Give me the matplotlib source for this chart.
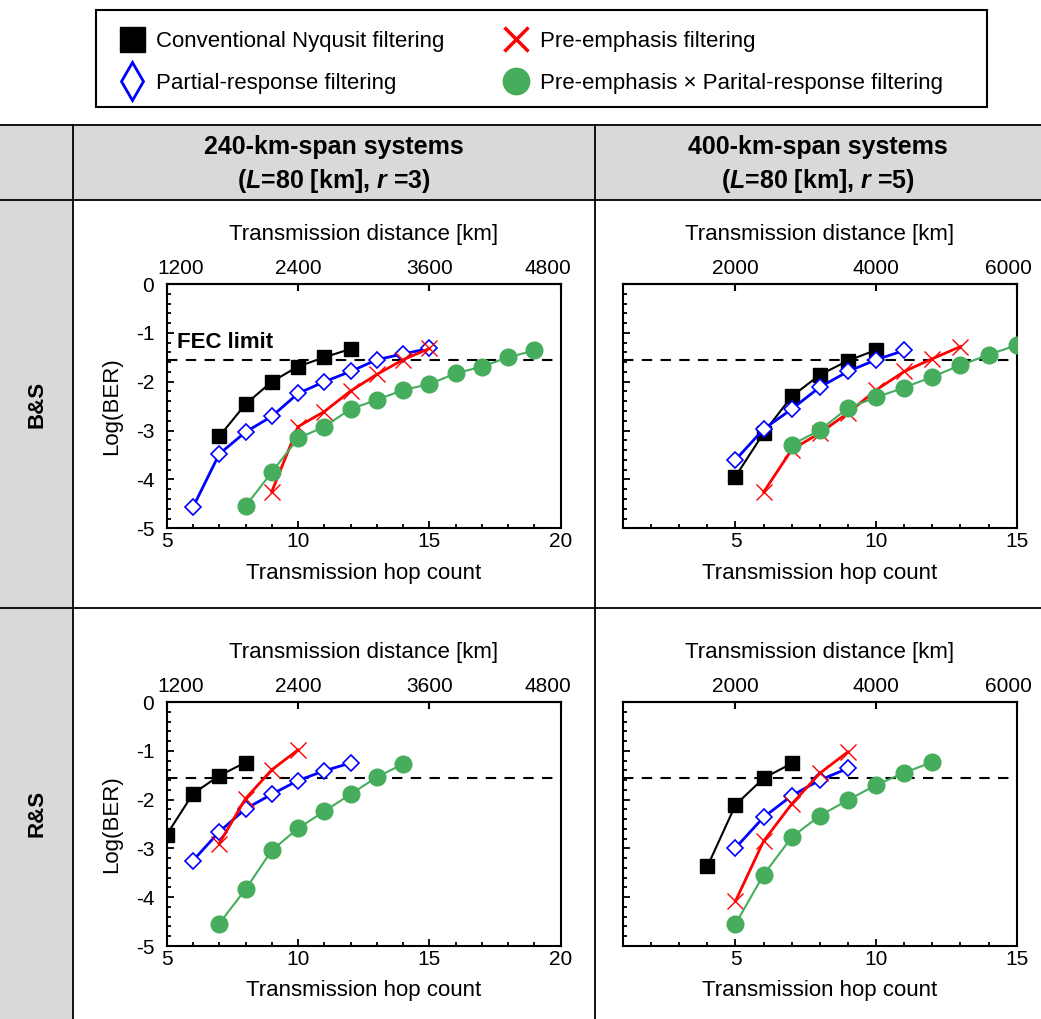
import matplotlib
matplotlib.use('Agg')
import matplotlib.pyplot as plt
from matplotlib.lines import Line2D
from matplotlib.patches import Rectangle
from matplotlib.ticker import MultipleLocator
from matplotlib.transforms import ScaledTranslation

plt.rcParams['font.family'] = ['Liberation Sans', 'DejaVu Sans']
plt.rcParams['axes.unicode_minus'] = False
plt.rcParams['mathtext.fontset'] = 'custom'
plt.rcParams['mathtext.it'] = 'Liberation Sans:italic:bold'
plt.rcParams['mathtext.rm'] = 'Liberation Sans:bold'

W, H = 1041, 1019
FEC_LIMIT = -1.55

# ---- data: hop counts and Log(BER) ----
# B&S, 240-km span
bs240_nyq_hops = [7, 8, 9, 10, 11, 12]
bs240_nyq_ber = [-3.12, -2.46, -2.00, -1.69, -1.50, -1.33]
bs240_pr_hops = [6, 7, 8, 9, 10, 11, 12, 13, 14, 15]
bs240_pr_ber = [-4.57, -3.48, -3.03, -2.71, -2.24, -2.00, -1.79, -1.55, -1.43, -1.32]
bs240_pe_hops = [9, 10, 11, 12, 13, 14, 15]
bs240_pe_ber = [-4.25, -2.92, -2.61, -2.19, -1.85, -1.55, -1.32]
bs240_pepr_hops = [8, 9, 10, 11, 12, 13, 14, 15, 16, 17, 18, 19]
bs240_pepr_ber = [-4.55, -3.85, -3.16, -2.92, -2.56, -2.37, -2.17, -2.05, -1.83, -1.69, -1.50, -1.36]

# B&S, 400-km span
bs400_nyq_hops = [5, 6, 7, 8, 9, 10]
bs400_nyq_ber = [-3.94, -3.05, -2.30, -1.86, -1.57, -1.35]
bs400_pr_hops = [5, 6, 7, 8, 9, 10, 11]
bs400_pr_ber = [-3.60, -2.97, -2.56, -2.11, -1.79, -1.55, -1.36]
bs400_pe_hops = [6, 7, 8, 9, 10, 11, 12, 13]
bs400_pe_ber = [-4.26, -3.39, -3.05, -2.64, -2.17, -1.79, -1.53, -1.28]
bs400_pepr_hops = [7, 8, 9, 10, 11, 12, 13, 14, 15]
bs400_pepr_ber = [-3.29, -2.99, -2.54, -2.32, -2.12, -1.90, -1.66, -1.45, -1.25]

# R&S, 240-km span
rs240_nyq_hops = [5, 6, 7, 8]
rs240_nyq_ber = [-2.72, -1.88, -1.51, -1.24]
rs240_pr_hops = [6, 7, 8, 9, 10, 11, 12]
rs240_pr_ber = [-3.25, -2.66, -2.19, -1.89, -1.61, -1.41, -1.25]
rs240_pe_hops = [7, 8, 9, 10]
rs240_pe_ber = [-2.90, -1.98, -1.39, -0.98]
rs240_pepr_hops = [7, 8, 9, 10, 11, 12, 13, 14]
rs240_pepr_ber = [-4.54, -3.84, -3.04, -2.59, -2.24, -1.89, -1.54, -1.27]

# R&S, 400-km span
rs400_nyq_hops = [4, 5, 6, 7]
rs400_nyq_ber = [-3.37, -2.11, -1.56, -1.26]
rs400_pr_hops = [5, 6, 7, 8, 9]
rs400_pr_ber = [-2.99, -2.36, -1.92, -1.60, -1.36]
rs400_pe_hops = [5, 6, 7, 8, 9]
rs400_pe_ber = [-4.08, -2.85, -2.09, -1.46, -1.02]
rs400_pepr_hops = [5, 6, 7, 8, 9, 10, 11, 12]
rs400_pepr_ber = [-4.55, -3.54, -2.77, -2.33, -2.01, -1.70, -1.45, -1.23]

legend_labels = ['Conventional Nyqusit filtering', 'Partial-response filtering',
                 'Pre-emphasis filtering', 'Pre-emphasis \u00d7 Parital-response filtering']
col_titles = ['240-km-span systems', '400-km-span systems']
col_sub = ['($L$=80 [km], $r$ =3)', '($L$=80 [km], $r$ =5)']
row_titles = ['B&S', 'R&S']

GREEN = '#45ad5c'
styles = {
    'nyq': dict(color='black', marker='s', ms=10.5, mfc='black', mec='black', lw=1.5),
    'pr': dict(color='#0000ff', marker='D', ms=8, mfc='white', mec='#0000ff', mew=1.2, lw=2),
    'pe': dict(color='#ff0000', marker='x', ms=12, mew=1.0, lw=2),
    'pepr': dict(color=GREEN, marker='o', ms=12, mfc=GREEN, mec=GREEN, lw=1.5),
}

panels = [
    # (row, col, span_km, xlim, bottom ticks, top ticks, edge label shifts px, series)
    (0, 0, 240, (5, 20), [5, 10, 15, 20], [1200, 2400, 3600, 4800], (14, -13),
     [(bs240_nyq_hops, bs240_nyq_ber, 'nyq'), (bs240_pr_hops, bs240_pr_ber, 'pr'),
      (bs240_pe_hops, bs240_pe_ber, 'pe'), (bs240_pepr_hops, bs240_pepr_ber, 'pepr')]),
    (0, 1, 400, (1, 15), [5, 10, 15], [2000, 4000, 6000], (0, -8),
     [(bs400_nyq_hops, bs400_nyq_ber, 'nyq'), (bs400_pr_hops, bs400_pr_ber, 'pr'),
      (bs400_pe_hops, bs400_pe_ber, 'pe'), (bs400_pepr_hops, bs400_pepr_ber, 'pepr')]),
    (1, 0, 240, (5, 20), [5, 10, 15, 20], [1200, 2400, 3600, 4800], (14, -13),
     [(rs240_nyq_hops, rs240_nyq_ber, 'nyq'), (rs240_pr_hops, rs240_pr_ber, 'pr'),
      (rs240_pe_hops, rs240_pe_ber, 'pe'), (rs240_pepr_hops, rs240_pepr_ber, 'pepr')]),
    (1, 1, 400, (1, 15), [5, 10, 15], [2000, 4000, 6000], (0, -8),
     [(rs400_nyq_hops, rs400_nyq_ber, 'nyq'), (rs400_pr_hops, rs400_pr_ber, 'pr'),
      (rs400_pe_hops, rs400_pe_ber, 'pe'), (rs400_pepr_hops, rs400_pepr_ber, 'pepr')]),
]


def fx(px):
    return px / W


def fy(py):
    return 1 - py / H


fig = plt.figure(figsize=(W / 100, H / 100), dpi=100)

# ---- table background ----
GRAY = '#d9d9d9'
fig.patches.append(Rectangle((0, 0), fx(73), fy(125), transform=fig.transFigure,
                             facecolor=GRAY, edgecolor='none', zorder=0))
fig.patches.append(Rectangle((fx(73), fy(200)), 1 - fx(73), fy(125) - fy(200),
                             transform=fig.transFigure, facecolor=GRAY, edgecolor='none', zorder=0))
tbl_lines = [
    ([0, 1], [fy(125), fy(125)]),
    ([0, 1], [fy(200), fy(200)]),
    ([0, 1], [fy(608), fy(608)]),
    ([fx(73), fx(73)], [0, fy(125)]),
    ([fx(595), fx(595)], [0, fy(125)]),
]
for xs, ys in tbl_lines:
    fig.add_artist(Line2D(xs, ys, transform=fig.transFigure, color='black', lw=1.3))

for i, t in enumerate(col_titles):
    xc = fx([334, 818][i])
    fig.text(xc, fy(147), t, ha='center', va='center', fontsize=18, fontweight='bold')
    fig.text(xc, fy(181), col_sub[i], ha='center', va='center', fontsize=18, fontweight='bold')
for i, t in enumerate(row_titles):
    fig.text(fx(37), fy([404, 813][i]), t, ha='center', va='center', rotation=90,
             fontsize=16, fontweight='bold')

# ---- panels ----
col_px = [(166.7, 560.7), (623, 1016.7)]
row_px = [(284, 528.3), (702, 946)]

for r, c, span, xlim, bticks, tticks, shifts, series in panels:
    x0, x1 = col_px[c]
    y0, y1 = row_px[r]
    ax = fig.add_axes([fx(x0), fy(y1), fx(x1) - fx(x0), fy(y0) - fy(y1)])
    for hops, ber, key in series:
        ax.plot(hops, ber, **styles[key], zorder=3)
    ax.axhline(FEC_LIMIT, color='black', lw=1.5, ls=(0, (5, 4)), zorder=2)
    ax.set_xlim(*xlim)
    ax.set_ylim(-5, 0)
    ax.set_xticks(bticks)
    ax.xaxis.set_minor_locator(MultipleLocator(1))
    ax.set_yticks([0, -1, -2, -3, -4, -5])
    ax.yaxis.set_minor_locator(MultipleLocator(0.2))
    ax.tick_params(which='both', direction='in', top=False, right=False, width=1.3,
                   labelsize=15)
    ax.tick_params(which='major', length=5)
    ax.tick_params(which='minor', length=3)
    ax.tick_params(axis='x', pad=3)
    ax.tick_params(axis='y', pad=9)
    for s in ax.spines.values():
        s.set_linewidth(1.5)
    ax.set_xlabel('Transmission hop count', fontsize=16, labelpad=8)
    if c == 0:
        ax.set_ylabel('Log(BER)', fontsize=16, labelpad=10)
        if r == 0:
            ax.text(5.38, -1.2, 'FEC limit', ha='left', va='center', fontsize=16,
                    fontweight='bold')
    else:
        ax.tick_params(axis='y', labelleft=False)

    sec = ax.secondary_xaxis('top', functions=(lambda h, s=span: h * s,
                                               lambda d, s=span: d / s))
    sec.set_xticks(tticks)
    sec.tick_params(direction='in', length=5, width=1.5, labelsize=15, pad=4)
    sec.spines['top'].set_linewidth(1.5)
    sec.set_xlabel('Transmission distance [km]', fontsize=16, labelpad=14)
    # edge labels sit slightly inside the frame in the original
    tl = sec.xaxis.get_major_ticks()
    for tick, dx in ((tl[0], shifts[0]), (tl[-1], shifts[1])):
        lab = tick.label2
        lab.set_transform(lab.get_transform() +
                          ScaledTranslation(dx / 100, 0, fig.dpi_scale_trans))

# ---- legend ----
fig.patches.append(Rectangle((fx(96), fy(107)), fx(987) - fx(96), fy(10) - fy(107),
                             transform=fig.transFigure, facecolor='white',
                             edgecolor='black', lw=1.5, zorder=1))
handles = [
    Line2D([], [], ls='none', marker='s', ms=18, mfc='black', mec='black'),
    Line2D([], [], ls='none', marker='d', ms=19, mfc='white', mec='#0000ff', mew=2),
    Line2D([], [], ls='none', marker='x', ms=17, mec='#ff0000', mew=2.5),
    Line2D([], [], ls='none', marker='o', ms=19, mfc=GREEN, mec=GREEN),
]
fig.legend(handles, legend_labels, loc='upper left', bbox_to_anchor=(fx(119), fy(31)),
           ncol=2, frameon=False, fontsize=16, borderpad=0, borderaxespad=0,
           handlelength=1.2, handletextpad=0.45, columnspacing=2.65, labelspacing=0.95)

fig.savefig('out.png', dpi=100)
